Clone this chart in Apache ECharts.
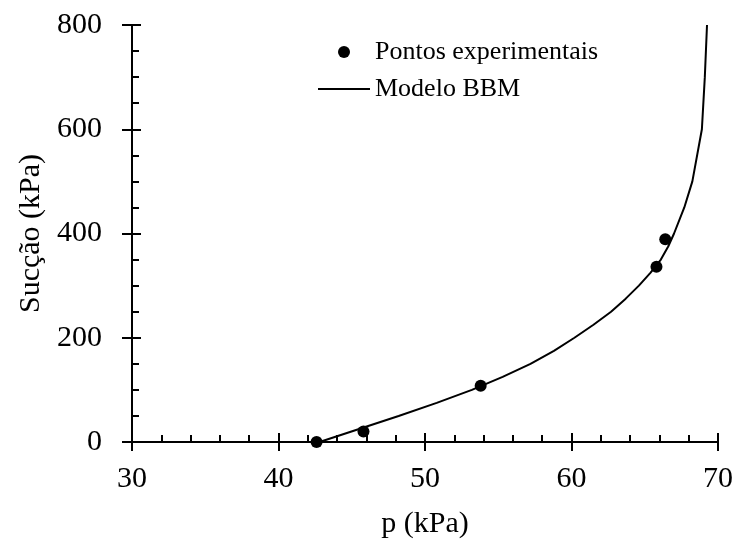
<!DOCTYPE html>
<html>
<head>
<meta charset="utf-8">
<script src="https://cdn.jsdelivr.net/npm/echarts@6/dist/echarts.min.js"></script>
<style>html,body{margin:0;padding:0;background:#fff}#c{width:737px;height:540px}</style>
</head>
<body>
<div id="c"></div>
<script>
// Experimental points: p (kPa), suction (kPa)
const expP = [42.6, 45.8, 53.8, 65.8, 66.4];
const expS = [0, 20, 108, 336, 389];
// BBM model curve
const bbmP = [42.8, 45.5, 48.2, 50.8, 53.2, 55.3, 57.2, 58.8, 60.2, 61.5, 62.7, 63.7, 64.6, 65.4, 66.1, 66.6, 67.0, 67.7, 68.25, 68.9, 69.1, 69.25];
const bbmS = [0, 25, 50, 75, 100, 125, 150, 175, 200, 225, 250, 275, 300, 325, 350, 375, 400, 450, 500, 600, 700, 800];
const xTicks = [30, 40, 50, 60, 70];
const yTicks = [0, 200, 400, 600, 800];

const FONT = "'Liberation Serif', 'Times New Roman', serif";
const chart = echarts.init(document.getElementById('c'), null, {renderer: 'canvas'});
const xMin = xTicks[0], xMax = xTicks[xTicks.length - 1];
const yMin = yTicks[0], yMax = yTicks[yTicks.length - 1];
const legendText = {fontFamily: FONT, fontSize: 26, color: '#000', lineHeight: 26};

chart.setOption({
  backgroundColor: '#fff',
  animation: false,
  grid: {left: 132, right: 19, top: 25, bottom: 98, containLabel: false, outerBoundsMode: 'none'},
  legend: [{
    orient: 'vertical', left: 333, top: 34,
    itemWidth: 52, itemHeight: 12,
    textStyle: legendText,
    data: [{name: 'Pontos experimentais', icon: 'circle'}]
  }, {
    orient: 'vertical', left: 313, top: 71,
    itemWidth: 52, itemHeight: 2,
    textStyle: legendText,
    data: [{name: 'Modelo BBM', icon: 'rect', itemStyle: {color: '#000'}}]
  }],
  xAxis: [{
    type: 'value', min: xMin, max: xMax, interval: 10, position: 'bottom',
    name: 'p (kPa)', nameLocation: 'middle', nameGap: 67,
    nameTextStyle: {fontFamily: FONT, fontSize: 30, color: '#000'},
    axisLine: {show: true, onZero: false, lineStyle: {color: '#000', width: 2}},
    axisTick: {show: true, inside: true, length: 9, lineStyle: {color: '#000', width: 2}},
    minorTick: {show: true, splitNumber: 5, length: 7, lineStyle: {color: '#000', width: 2}},
    axisLabel: {fontFamily: FONT, fontSize: 30, color: '#000', margin: 22,
      formatter: v => xTicks.includes(v) ? String(v) : ''},
    splitLine: {show: false}
  }, {
    type: 'value', min: xMin, max: xMax, interval: 10, position: 'bottom', gridIndex: 0,
    axisLine: {show: false},
    axisTick: {show: true, inside: false, length: 9, lineStyle: {color: '#000', width: 2}},
    axisLabel: {show: false}, splitLine: {show: false}
  }],
  yAxis: [{
    type: 'value', min: yMin, max: yMax, interval: 200, position: 'left',
    name: 'Sucção (kPa)', nameLocation: 'middle', nameGap: 86,
    nameTextStyle: {fontFamily: FONT, fontSize: 30, color: '#000'},
    axisLine: {show: true, onZero: false, lineStyle: {color: '#000', width: 2}},
    axisTick: {show: true, inside: true, length: 9, lineStyle: {color: '#000', width: 2}},
    minorTick: {show: true, splitNumber: 4, length: 7, lineStyle: {color: '#000', width: 2}},
    axisLabel: {fontFamily: FONT, fontSize: 30, color: '#000', margin: 30,
      formatter: v => yTicks.includes(v) ? String(v) : ''},
    splitLine: {show: false}
  }, {
    type: 'value', min: yMin, max: yMax, interval: 200, position: 'left', gridIndex: 0,
    axisLine: {show: false},
    axisTick: {show: true, inside: false, length: 10, lineStyle: {color: '#000', width: 2}},
    axisLabel: {show: false}, splitLine: {show: false}
  }],
  series: [{
    name: 'Modelo BBM', type: 'line', xAxisIndex: 0, yAxisIndex: 0,
    data: bbmP.map((p, i) => [p, bbmS[i]]),
    showSymbol: false, symbol: 'none', smooth: false,
    lineStyle: {color: '#000', width: 2}, itemStyle: {color: '#000'}, z: 3
  }, {
    name: 'Pontos experimentais', type: 'scatter', xAxisIndex: 0, yAxisIndex: 0,
    data: expP.map((p, i) => [p, expS[i]]),
    symbol: 'circle', symbolSize: 12,
    itemStyle: {color: '#000', opacity: 1}, z: 4
  }]
});
</script>
</body>
</html>
